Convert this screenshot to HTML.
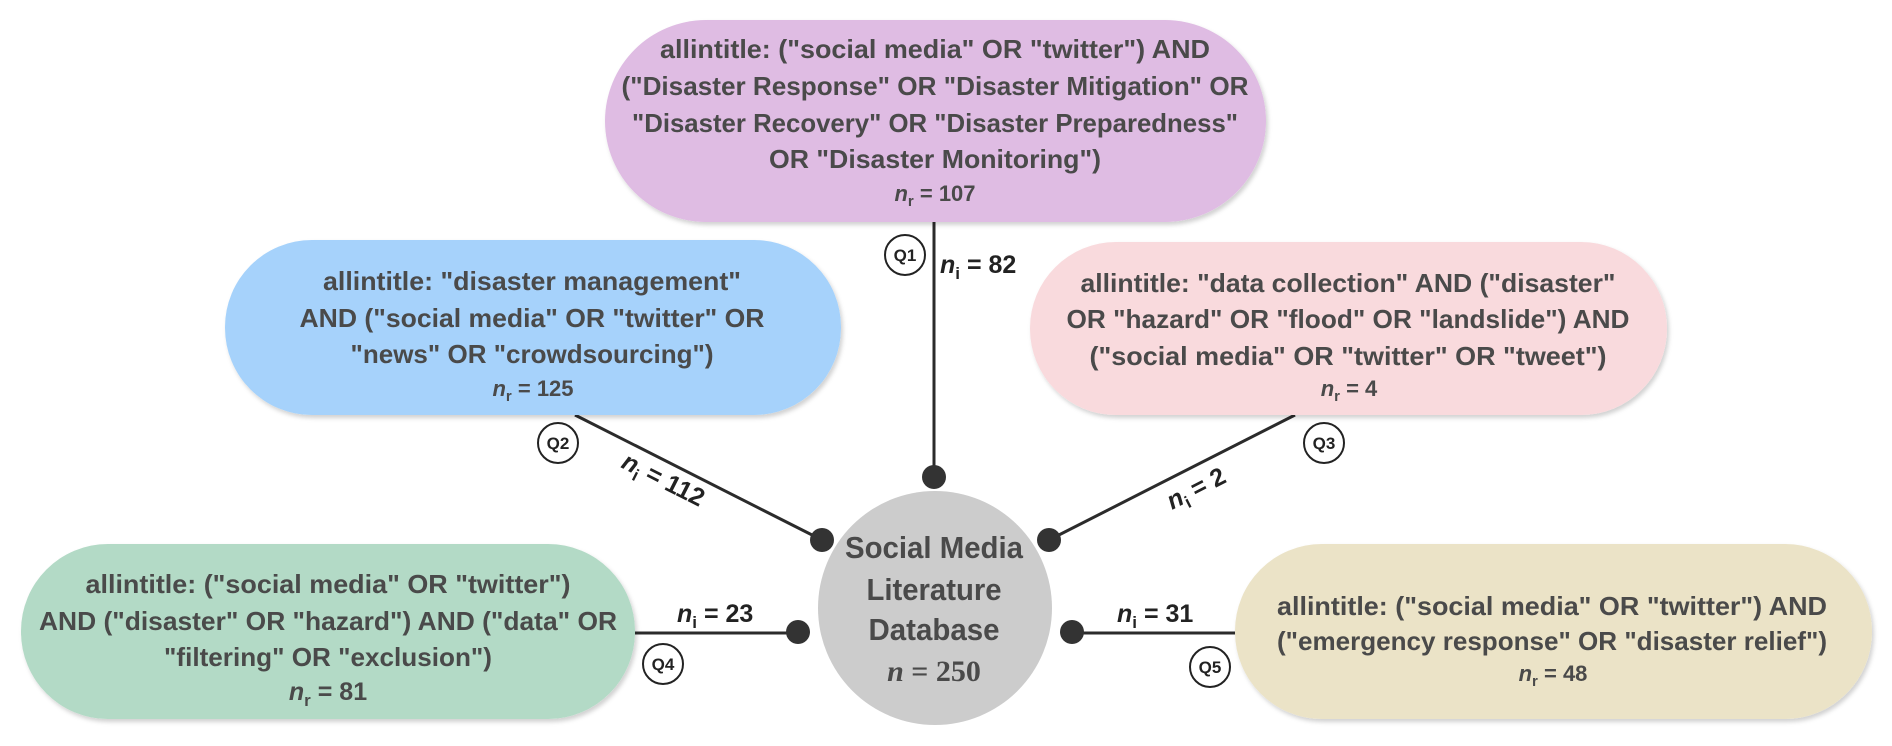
<!DOCTYPE html>
<html><head><meta charset="utf-8"><style>
html,body{margin:0;padding:0;background:#fff;}
svg{display:block}
text{font-family:"Liberation Sans",sans-serif;font-weight:bold;fill:#4a4a4a;}
</style></head><body>
<svg width="1892" height="746" viewBox="0 0 1892 746" xmlns="http://www.w3.org/2000/svg">
<defs>
<filter id="sh" x="-5%" y="-10%" width="110%" height="125%"><feDropShadow dx="2" dy="3" stdDeviation="2" flood-color="#000" flood-opacity="0.18"/></filter>
</defs>
<!-- connectors -->
<g stroke="#2b2b2b" stroke-width="3" fill="none">
<line x1="934" y1="222" x2="934" y2="477"/>
<line x1="575" y1="415" x2="822" y2="540"/>
<line x1="1295" y1="415" x2="1049" y2="540"/>
<line x1="635" y1="633" x2="798" y2="633"/>
<line x1="1072" y1="633" x2="1235" y2="633"/>
</g>
<!-- boxes -->
<rect x="605" y="20" width="661" height="202" rx="101" fill="#dfbce3" filter="url(#sh)"/>
<rect x="225" y="240" width="616" height="175" rx="87" fill="#a6d2fb" filter="url(#sh)"/>
<rect x="1030" y="242" width="637" height="173" rx="86" fill="#f9dadd" filter="url(#sh)"/>
<rect x="21" y="544" width="614" height="175" rx="87" fill="#b3dac6" filter="url(#sh)"/>
<rect x="1235" y="544" width="637" height="175" rx="87" fill="#ebe3c7" filter="url(#sh)"/>
<!-- center circle -->
<circle cx="935" cy="608" r="117" fill="#cccccc"/>
<!-- dots -->
<g fill="#333">
<circle cx="934" cy="477" r="12"/>
<circle cx="822" cy="540" r="12"/>
<circle cx="1049" cy="540" r="12"/>
<circle cx="798" cy="632" r="12"/>
<circle cx="1072" cy="632" r="12"/>
</g>
<!-- Q circles -->
<g fill="#fff" stroke="#222" stroke-width="2">
<circle cx="905" cy="255" r="20"/>
<circle cx="558" cy="443" r="20"/>
<circle cx="1324" cy="443" r="20"/>
<circle cx="663" cy="664" r="20"/>
<circle cx="1210" cy="667" r="20"/>
</g>
<g font-size="17" text-anchor="middle" style="fill:#222">
<text x="905" y="261" style="fill:#222">Q1</text>
<text x="558" y="449" style="fill:#222">Q2</text>
<text x="1324" y="449" style="fill:#222">Q3</text>
<text x="663" y="670" style="fill:#222">Q4</text>
<text x="1210" y="673" style="fill:#222">Q5</text>
</g>
<!-- purple text -->
<g font-size="26" text-anchor="middle">
<text x="935" y="58" textLength="550" lengthAdjust="spacingAndGlyphs">allintitle: ("social media" OR "twitter") AND</text>
<text x="935" y="95" textLength="627" lengthAdjust="spacingAndGlyphs">("Disaster Response" OR "Disaster Mitigation" OR</text>
<text x="935" y="132" textLength="606" lengthAdjust="spacingAndGlyphs">"Disaster Recovery" OR "Disaster Preparedness"</text>
<text x="935" y="168" textLength="332" lengthAdjust="spacingAndGlyphs">OR "Disaster Monitoring")</text>
</g>
<g font-size="22" text-anchor="middle">
<text x="935" y="201"><tspan font-style="italic">n</tspan><tspan font-size="15" dy="5">r</tspan><tspan dy="-5"> = 107</tspan></text>
</g>
<!-- blue -->
<g font-size="26" text-anchor="middle">
<text x="532" y="290" textLength="418" lengthAdjust="spacingAndGlyphs">allintitle: "disaster management"</text>
<text x="532" y="327" textLength="465" lengthAdjust="spacingAndGlyphs">AND ("social media" OR "twitter" OR</text>
<text x="532" y="363" textLength="363" lengthAdjust="spacingAndGlyphs">"news" OR "crowdsourcing")</text>
</g>
<text x="533" y="396" font-size="22" text-anchor="middle"><tspan font-style="italic">n</tspan><tspan font-size="15" dy="5">r</tspan><tspan dy="-5"> = 125</tspan></text>
<!-- pink -->
<g font-size="26" text-anchor="middle">
<text x="1348" y="292" textLength="535" lengthAdjust="spacingAndGlyphs">allintitle: "data collection" AND ("disaster"</text>
<text x="1348" y="328" textLength="563" lengthAdjust="spacingAndGlyphs">OR "hazard" OR "flood" OR "landslide") AND</text>
<text x="1348" y="365" textLength="517" lengthAdjust="spacingAndGlyphs">("social media" OR "twitter" OR "tweet")</text>
</g>
<text x="1349" y="396" font-size="22" text-anchor="middle"><tspan font-style="italic">n</tspan><tspan font-size="15" dy="5">r</tspan><tspan dy="-5"> = 4</tspan></text>
<!-- green -->
<g font-size="26" text-anchor="middle">
<text x="328" y="593" textLength="485" lengthAdjust="spacingAndGlyphs">allintitle: ("social media" OR "twitter")</text>
<text x="328" y="630" textLength="578" lengthAdjust="spacingAndGlyphs">AND ("disaster" OR "hazard") AND ("data" OR</text>
<text x="328" y="666" textLength="328" lengthAdjust="spacingAndGlyphs">"filtering" OR "exclusion")</text>
</g>
<text x="328" y="700" font-size="25" text-anchor="middle"><tspan font-style="italic">n</tspan><tspan font-size="17" dy="6">r</tspan><tspan dy="-6"> = 81</tspan></text>
<!-- beige -->
<g font-size="26" text-anchor="middle">
<text x="1552" y="615" textLength="550" lengthAdjust="spacingAndGlyphs">allintitle: ("social media" OR "twitter") AND</text>
<text x="1552" y="650" textLength="550" lengthAdjust="spacingAndGlyphs">("emergency response" OR "disaster relief")</text>
</g>
<text x="1553" y="681" font-size="22" text-anchor="middle"><tspan font-style="italic">n</tspan><tspan font-size="15" dy="5">r</tspan><tspan dy="-5"> = 48</tspan></text>
<!-- ni labels -->
<g font-size="25" style="fill:#222">
<text x="940" y="273" style="fill:#222"><tspan font-style="italic">n</tspan><tspan font-size="17" dy="6">i</tspan><tspan dy="-6"> = 82</tspan></text>
<text x="677" y="622" style="fill:#222"><tspan font-style="italic">n</tspan><tspan font-size="17" dy="6">i</tspan><tspan dy="-6"> = 23</tspan></text>
<text x="1117" y="622" style="fill:#222"><tspan font-style="italic">n</tspan><tspan font-size="17" dy="6">i</tspan><tspan dy="-6"> = 31</tspan></text>
<text transform="translate(620,467) rotate(26.8)" style="fill:#222"><tspan font-style="italic">n</tspan><tspan font-size="17" dy="6">i</tspan><tspan dy="-6"> = 112</tspan></text>
<text transform="translate(1172,510) rotate(-27)" style="fill:#222"><tspan font-style="italic">n</tspan><tspan font-size="17" dy="6">i</tspan><tspan dy="-6"> = 2</tspan></text>
</g>
<!-- circle text -->
<g font-size="31" text-anchor="middle" style="fill:#4a4a4a">
<text x="934" y="558" textLength="178" lengthAdjust="spacingAndGlyphs">Social Media</text>
<text x="934" y="600" textLength="135" lengthAdjust="spacingAndGlyphs">Literature</text>
<text x="934" y="640" textLength="131" lengthAdjust="spacingAndGlyphs">Database</text>
</g>
<text x="934" y="681" font-size="30" text-anchor="middle" style="font-family:'Liberation Serif',serif;fill:#4a4a4a"><tspan font-style="italic">n</tspan> = 250</text>
</svg>
</body></html>
